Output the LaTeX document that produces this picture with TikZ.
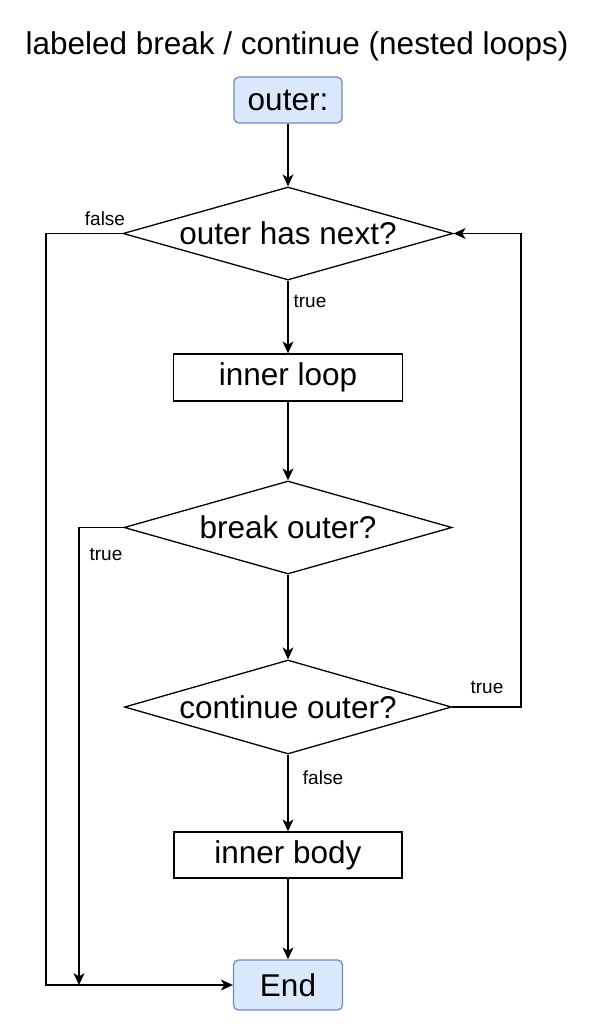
\documentclass[tikz,border=0pt]{standalone}
\usepackage{fontspec}
\setmainfont{Liberation Sans}
\usetikzlibrary{positioning,shapes.geometric,arrows.meta}
\definecolor{termfill}{HTML}{DAE8FC}
\definecolor{termline}{HTML}{6C8EBF}
\newcommand{\bigtxt}{\fontsize{31.5}{37}\selectfont}
\tikzset{
  arr/.style={-{Stealth[length=12pt,width=11pt,inset=3.5pt]}},
  term/.style={draw=termline, fill=termfill, rounded corners=5pt,
               inner sep=0pt, font=\bigtxt},
  proc/.style={draw, inner sep=0pt, font=\bigtxt},
  cond/.style={draw, diamond, aspect=3.55, inner sep=0pt, font=\bigtxt},
  lbl/.style={font=\fontsize{19}{23}\selectfont}
}

\begin{document}
\begin{tikzpicture}[x=1pt, y=-1pt, line width=1.3pt]
  \useasboundingbox (0,0) rectangle (593,1024);
  \node[font=\bigtxt] (title) at (297,46) {labeled break / continue (nested loops)};
  \node[term, minimum width=108pt, minimum height=46pt] (outer) at (288,100) {outer:};
  \node[cond, minimum width=330pt, minimum height=93pt] (hasnext) at (288,233.5) {outer has next?};
  \node[proc, minimum width=229pt, minimum height=47pt] (loop) at (288,377.5) {inner loop};
  \node[cond, minimum width=328pt, minimum height=93pt] (brk) at (288,527.5) {break outer?};
  \node[cond, minimum width=327pt, minimum height=94pt] (cont) at (288,707) {continue outer?};
  \node[proc, minimum width=228pt, minimum height=46pt] (body) at (288,855) {inner body};
  \node[term, minimum width=109pt, minimum height=50pt] (End) at (288,985) {End};

  \coordinate (leftrail) at (46,985);
  \coordinate (brkdrop) at (79,985);
  \coordinate (rightrail) at (521,470);

  \draw[arr] (outer) -- (hasnext);
  \draw[arr] (hasnext) -- (loop);
  \draw[arr] (loop) -- (brk);
  \draw[arr] (brk) -- (cont);
  \draw[arr] (cont) -- (body);
  \draw[arr] (body) -- (End);
  \draw[arr] (hasnext.west) -| (leftrail) -- (End.west);
  \draw[arr] (brk.west) -| (brkdrop);
  \draw[arr] (cont.east) -| (rightrail) |- (hasnext.east);

  \node[lbl] (lfalse1) at (105,219) {false};
  \node[lbl] (ltrue1) at (310,301) {true};
  \node[lbl] (ltrue2) at (106,554) {true};
  \node[lbl] (ltrue3) at (487,687) {true};
  \node[lbl] (lfalse2) at (323,778) {false};
\end{tikzpicture}
\end{document}
